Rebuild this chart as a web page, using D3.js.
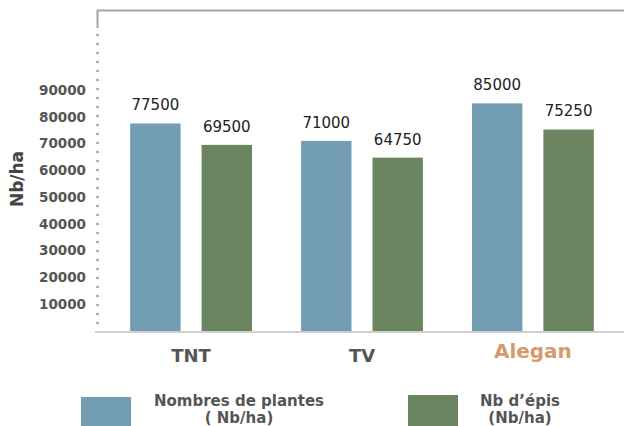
<!DOCTYPE html>
<html>
<head>
<meta charset="utf-8">
<script src="https://cdn.jsdelivr.net/npm/d3@7"></script>
<style>
  body { margin: 0; background: #fff; }
  svg { display: block; font-family: "DejaVu Sans", sans-serif; }
</style>
</head>
<body>
<svg id="chart" width="624" height="426"></svg>
<script>
// chart values
const categories = ['TNT', 'TV', 'Alegan'];
const seriesNames = ['Nombres de plantes', 'Nb d\u2019épis'];
const legendLines = [['Nombres de plantes', '( Nb/ha)'], ['Nb d\u2019épis', '(Nb/ha)']];
const plantes = [77500, 71000, 85000];
const epis = [69500, 64750, 75250];
const yTicks = [10000, 20000, 30000, 40000, 50000, 60000, 70000, 80000, 90000];
const yTitle = 'Nb/ha';

const colors = ['#739db3', '#6a8560'];

const svg = d3.select('#chart');

const x = d3.scaleBand()
  .domain(categories)
  .range([96, 628])
  .paddingInner(0.287)
  .paddingOuter(0.2);

const xs = d3.scaleBand()
  .domain(seriesNames)
  .range([0, x.bandwidth()])
  .paddingInner(0.294);

const y = d3.scaleLinear()
  .domain([0, 90000])
  .range([331, 90]);

const rows = categories.map((c, i) => ({
  cat: c,
  values: [plantes[i], epis[i]].map((v, j) => ({ key: seriesNames[j], v, j }))
}));

// frame: top line + short vertical, dotted axis, baseline
svg.append('path')
  .attr('d', 'M97.5,28V10.5H624')
  .attr('fill', 'none')
  .attr('stroke', '#a6a6a6')
  .attr('stroke-width', 2);

svg.append('line')
  .attr('x1', 97.5).attr('x2', 97.5)
  .attr('y1', 35).attr('y2', 328)
  .attr('stroke', '#999')
  .attr('stroke-width', 2.6)
  .attr('stroke-linecap', 'round')
  .attr('stroke-dasharray', '0,9');

// bars
const groups = svg.selectAll('.grp')
  .data(rows)
  .enter().append('g')
  .attr('transform', d => `translate(${x(d.cat)},0)`);

groups.selectAll('rect')
  .data(d => d.values)
  .enter().append('rect')
  .attr('x', d => xs(d.key))
  .attr('y', d => y(d.v))
  .attr('width', xs.bandwidth())
  .attr('height', d => y(0) - y(d.v))
  .attr('fill', d => colors[d.j]);

groups.selectAll('.val')
  .data(d => d.values)
  .enter().append('text')
  .attr('x', d => xs(d.key) + xs.bandwidth() / 2)
  .attr('y', d => y(d.v) - 13)
  .attr('text-anchor', 'middle')
  .attr('font-size', 15)
  .attr('fill', '#222')
  .text(d => d.v);

svg.append('line')
  .attr('x1', 95).attr('x2', 624)
  .attr('y1', y(0) + 1).attr('y2', y(0) + 1)
  .attr('stroke', '#cfcfcf')
  .attr('stroke-width', 2);

// y axis labels
const yAxis = svg.append('g')
  .attr('transform', 'translate(86,0)')
  .call(d3.axisLeft(y).tickValues(yTicks).tickSize(0).tickPadding(0).tickFormat(d3.format('d')));
yAxis.select('.domain').remove();
yAxis.selectAll('text')
  .attr('font-family', '"DejaVu Sans", sans-serif')
  .attr('font-size', 13.5)
  .attr('font-weight', 'bold')
  .attr('fill', '#555');

svg.append('text')
  .attr('transform', 'translate(23,179) rotate(-90)')
  .attr('text-anchor', 'middle')
  .attr('font-size', 17)
  .attr('font-weight', 'bold')
  .attr('fill', '#444')
  .text(yTitle);

// category labels
svg.selectAll('.cat')
  .data(categories)
  .enter().append('text')
  .attr('x', d => x(d) + x.bandwidth() / 2)
  .attr('y', (d, i) => i === 2 ? 358 : 362)
  .attr('text-anchor', 'middle')
  .attr('font-size', (d, i) => i === 2 ? 20 : 18)
  .attr('font-weight', 'bold')
  .attr('fill', (d, i) => i === 2 ? '#d69a6c' : '#555')
  .text(d => d);

// legend
const legendX = [81, 408];
const legendTextX = [239, 520];
const leg = svg.selectAll('.leg')
  .data(legendLines)
  .enter().append('g');

leg.append('rect')
  .attr('x', (d, i) => legendX[i])
  .attr('y', (d, i) => i === 0 ? 397 : 395)
  .attr('width', 50)
  .attr('height', 50)
  .attr('fill', (d, i) => colors[i]);

leg.each(function (lines, i) {
  const t = d3.select(this).append('text')
    .attr('text-anchor', 'middle')
    .attr('font-size', 15)
    .attr('font-weight', 'bold')
    .attr('fill', '#555');
  lines.forEach((l, k) => {
    t.append('tspan')
      .attr('x', legendTextX[i])
      .attr('y', 406 + k * 17)
      .text(l);
  });
});
</script>
</body>
</html>
